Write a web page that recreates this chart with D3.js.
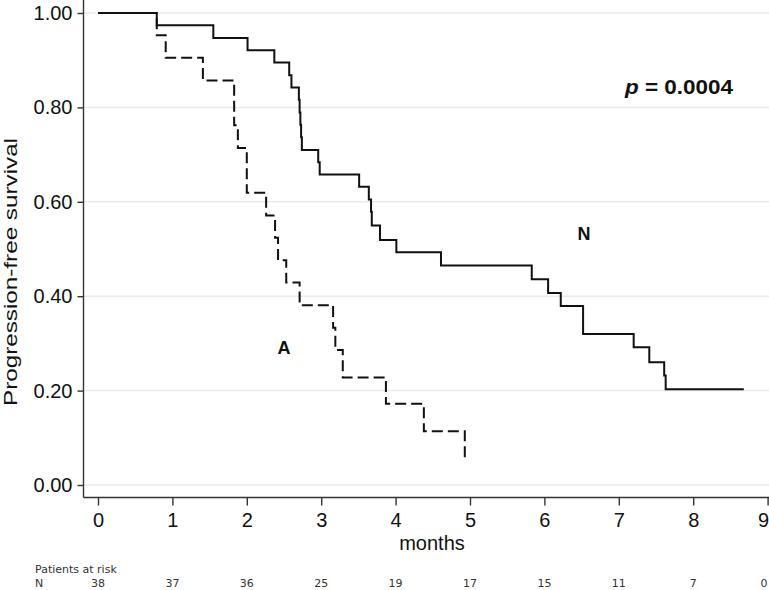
<!DOCTYPE html>
<html>
<head>
<meta charset="utf-8">
<script src="https://cdn.jsdelivr.net/npm/d3@7"></script>
<style>
  body { margin: 0; background: #fff; }
  svg { display: block; font-family: "Liberation Sans", Arial, sans-serif; }
</style>
</head>
<body>
<div id="km"></div>
<script>
// Kaplan-Meier steps (time in months, survival)
var nTimes = [0, 0.79, 1.55, 2.01, 2.37, 2.57, 2.60, 2.70, 2.71, 2.72, 2.73, 2.74, 2.96, 2.98, 3.51, 3.64, 3.67, 3.68, 3.79, 4.01, 4.61, 5.83, 6.05, 6.22, 6.52, 7.20, 7.41, 7.61, 7.63, 8.68];
var nSurv  = [1.0, 0.974, 0.947, 0.921, 0.895, 0.868, 0.842, 0.816, 0.789, 0.763, 0.737, 0.710, 0.684, 0.658, 0.632, 0.605, 0.579, 0.550, 0.519, 0.493, 0.465, 0.436, 0.407, 0.379, 0.320, 0.292, 0.260, 0.232, 0.203, 0.203];

var aTimes = [0, 0.79, 0.91, 1.41, 1.83, 1.88, 2.00, 2.26, 2.38, 2.42, 2.53, 2.71, 3.16, 3.19, 3.29, 3.87, 4.38, 4.93];
var aSurv  = [1.0, 0.953, 0.905, 0.857, 0.762, 0.714, 0.619, 0.571, 0.524, 0.476, 0.429, 0.381, 0.333, 0.286, 0.228, 0.172, 0.114, 0.057];

var xTicks = [0, 1, 2, 3, 4, 5, 6, 7, 8, 9];
var yTicks = [0, 0.2, 0.4, 0.6, 0.8, 1.0];
var riskTimes = [0, 1, 2, 3, 4, 5, 6, 7, 8, 9];
var riskN = [38, 37, 36, 25, 19, 17, 15, 11, 7, 0];

var width = 769, height = 590;
var axisX = 83.5, axisY = 497.5;

var svg = d3.select("#km").append("svg")
  .attr("width", width).attr("height", height);

var x = d3.scaleLinear().domain([0, 9]).range([98, 767.6]);
var y = d3.scaleLinear().domain([0, 1]).range([485, 13]);

// grid lines
svg.append("g")
  .selectAll("line")
  .data(yTicks)
  .enter().append("line")
  .attr("x1", axisX + 1).attr("x2", width)
  .attr("y1", function(d) { return y(d); })
  .attr("y2", function(d) { return y(d); })
  .attr("stroke", "#e4ecee")
  .attr("stroke-width", 1.5);

// y axis
var yAxis = svg.append("g")
  .attr("transform", "translate(" + axisX + ",0)")
  .call(d3.axisLeft(y).tickValues(yTicks).tickFormat(d3.format(".2f")).tickSize(6).tickPadding(5));
yAxis.select(".domain").attr("d", "M0,0V" + axisY);

// x axis
var xAxis = svg.append("g")
  .attr("transform", "translate(0," + axisY + ")")
  .call(d3.axisBottom(x).tickValues(xTicks).tickFormat(d3.format("d")).tickSize(8).tickPadding(7));
xAxis.select(".domain").attr("d", "M" + axisX + ",0H" + (width + 5));

svg.selectAll(".domain, .tick line").attr("stroke", "#333").attr("stroke-width", 1.4);
svg.selectAll(".tick text")
  .attr("fill", "#111")
  .style("font-size", "20px")
  .style("font-family", "'Liberation Sans', Arial, sans-serif");

// last x label sits on the right edge: keep it inside
xAxis.selectAll(".tick text")
  .filter(function(d) { return d === 9; })
  .attr("text-anchor", "end")
  .attr("dx", 1);

// axis titles
svg.append("text")
  .attr("transform", "translate(17,272) rotate(-90)")
  .attr("text-anchor", "middle")
  .attr("textLength", 268)
  .attr("lengthAdjust", "spacingAndGlyphs")
  .style("font-size", "19px")
  .attr("fill", "#111")
  .text("Progression-free survival");

svg.append("text")
  .attr("x", 432).attr("y", 550)
  .attr("text-anchor", "middle")
  .style("font-size", "20px")
  .attr("fill", "#111")
  .text("months");

// curves
var line = d3.line()
  .x(function(d) { return x(d[0]); })
  .y(function(d) { return y(d[1]); })
  .curve(d3.curveStepAfter);

var nData = nTimes.map(function(t, i) { return [t, nSurv[i]]; });
var aData = aTimes.map(function(t, i) { return [t, aSurv[i]]; });

svg.append("path")
  .datum(aData)
  .attr("d", line)
  .attr("fill", "none")
  .attr("stroke", "#111")
  .attr("stroke-width", 2)
  .attr("stroke-dasharray", "11,5");

svg.append("path")
  .datum(nData)
  .attr("d", line)
  .attr("fill", "none")
  .attr("stroke", "#111")
  .attr("stroke-width", 2);

// group labels
svg.append("text")
  .attr("x", 584).attr("y", 240)
  .attr("text-anchor", "middle")
  .style("font-size", "18px").style("font-weight", "bold")
  .attr("fill", "#111")
  .text("N");

svg.append("text")
  .attr("x", 284).attr("y", 354)
  .attr("text-anchor", "middle")
  .style("font-size", "18px").style("font-weight", "bold")
  .attr("fill", "#111")
  .text("A");

var pText = svg.append("text")
  .attr("x", 625).attr("y", 94)
  .attr("textLength", 108)
  .attr("lengthAdjust", "spacingAndGlyphs")
  .style("font-size", "21px").style("font-weight", "bold")
  .attr("fill", "#111");
pText.append("tspan").style("font-style", "italic").text("p");
pText.append("tspan").text(" = 0.0004");

// patients at risk
var riskFont = "'DejaVu Sans', Verdana, sans-serif";
svg.append("text")
  .attr("x", 35).attr("y", 573)
  .style("font-family", riskFont)
  .style("font-size", "11px")
  .attr("fill", "#333")
  .text("Patients at risk");

svg.append("text")
  .attr("x", 35).attr("y", 587)
  .style("font-family", riskFont)
  .style("font-size", "11px")
  .attr("fill", "#333")
  .text("N");

svg.append("g")
  .selectAll("text")
  .data(riskN)
  .enter().append("text")
  .attr("x", function(d, i) { return Math.min(x(riskTimes[i]), width - 1); })
  .attr("y", 587)
  .attr("text-anchor", function(d, i) { return x(riskTimes[i]) > width - 10 ? "end" : "middle"; })
  .style("font-family", riskFont)
  .style("font-size", "11px")
  .attr("fill", "#333")
  .text(function(d) { return d; });
</script>
</body>
</html>
